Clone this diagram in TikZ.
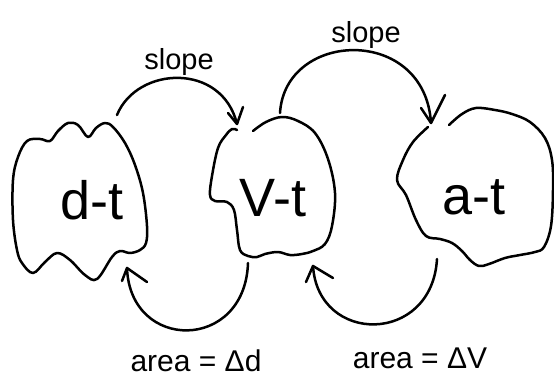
\documentclass[tikz,border=0pt]{standalone}
\usepackage{fontspec}
\setmainfont{Liberation Sans}
\begin{document}
\begin{tikzpicture}[x=1pt,y=-1pt,
  pen/.style={line width=2.5pt, line cap=round, line join=round},
  bigtxt/.style={anchor=base, inner sep=0pt, font=\fontsize{54}{60}\selectfont},
  slopetxt/.style={anchor=base, inner sep=0pt, font=\fontsize{29}{32}\selectfont},
  areatxt/.style={anchor=base, inner sep=0pt, font=\fontsize{30}{34}\selectfont}]
\useasboundingbox (0,0) rectangle (554,377);

% clouds
\draw[pen] plot[smooth cycle, tension=0.6] coordinates {
  (27,141) (40,139) (50,141) (58,131) (68,123) (78,125) (88,137) (96,128)
  (105,123) (113,127) (125,143) (135,165) (143,193) (147,226) (146,243)
  (140,250) (130,253) (120,251) (112,257) (97,279) (85,275) (70,260)
  (57,253) (45,262) (33,273) (22,263) (17,250) (13,220) (13,180) (18,157)};
\draw[pen] plot[smooth, tension=0.6] coordinates {
  (253,131) (266,122) (282,117) (298,121) (315,133) (328,159) (335,193)
  (332,226) (325,244) (313,251) (302,254) (290,255) (278,252) (265,254)
  (257,257) (248,256) (240,250) (237,230) (234,210) (227,202) (215,201)
  (210,195) (212,176) (218,148) (226,135) (232,129) (237,130)};
\draw[pen] plot[smooth, tension=0.6] coordinates {
  (449,125) (462,114) (476,108) (495,110) (512,114) (530,122) (545,138)
  (552,160) (553,190) (551,226) (544,247) (535,252) (520,255) (505,258)
  (489,264) (479,266) (470,260) (462,251) (452,243) (440,239) (426,236)
  (416,220) (406,195) (397,180) (403,160) (413,142) (428,127)};

% texts
\node[bigtxt] (dt) at (92,219) {d-t};
\node[bigtxt] (vt) at (273,216) {V-t};
\node[bigtxt] (at) at (474,214) {a-t};
\node[slopetxt] (slope1) at (179,70) {slope};
\node[slopetxt] (slope2) at (366,43) {slope};
\node[areatxt] (area1) at (196,371) {area = Δd};
\node[areatxt] (area2) at (420,368) {area = ΔV};

% arc endpoints
\coordinate (s1start) at (117,115);
\coordinate (s1tip) at (237,124);
\coordinate (s1a) at (228,113);
\coordinate (s1b) at (243,107);
\coordinate (s2start) at (280,113);
\coordinate (s2tip) at (431,123);
\coordinate (s2a) at (421,108);
\coordinate (s2b) at (445,95);
\coordinate (a1start) at (248,263);
\coordinate (a1tip) at (127,268);
\coordinate (a1a) at (122,281);
\coordinate (a1b) at (147,282);
\coordinate (a2start) at (437,259);
\coordinate (a2tip) at (313,266);
\coordinate (a2a) at (306,282);
\coordinate (a2b) at (333,278);

% top arcs
\draw[pen] (s1start) .. controls (137,66) and (222,62) .. (s1tip);
\draw[pen] (s1a) -- (s1tip) -- (s1b);
\draw[pen] (s2start) .. controls (285,30) and (425,25) .. (s2tip);
\draw[pen] (s2a) -- (s2tip) -- (s2b);

% bottom arcs
\draw[pen] (a1start) .. controls (245,352) and (130,352) .. (a1tip);
\draw[pen] (a1a) -- (a1tip) -- (a1b);
\draw[pen] (a2start) .. controls (432,345) and (318,345) .. (a2tip);
\draw[pen] (a2a) -- (a2tip) -- (a2b);
\end{tikzpicture}
\end{document}
